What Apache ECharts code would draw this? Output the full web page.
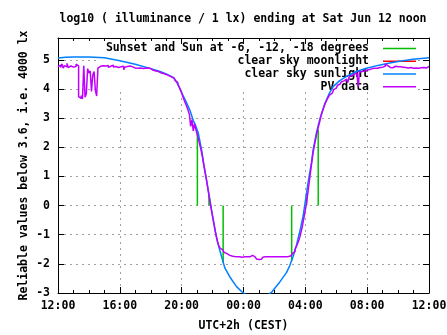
<!DOCTYPE html>
<html>
<head>
<meta charset="utf-8">
<script src="https://cdn.jsdelivr.net/npm/echarts@6/dist/echarts.min.js"></script>
<style>
  html, body { margin: 0; padding: 0; background: #fff; }
  #chart { width: 447px; height: 335px; }
</style>
</head>
<body>
<div id="chart"></div>
<script>
// ---- text ----
const titleText = 'log10 ( illuminance / 1 lx) ending at Sat Jun 12 noon';
const xAxisName = 'UTC+2h (CEST)';
const yAxisName = 'Reliable values below 3.6, i.e. 4000 lx';
const xTickLabels = ['12:00', '16:00', '20:00', '00:00', '04:00', '08:00', '12:00'];
const seriesNames = [
  'Sunset and Sun at -6, -12, -18 degrees',
  'clear sky moonlight',
  'clear sky sunlight',
  'PV data'
];

// ---- data (x = hours after 12:00 noon, y = log10 lux) ----
// Sun events: sunset, -6 deg, -12 deg (evening), -12 deg, -6 deg, sunrise (morning)
const sunEventTimes = ['21:01', '21:46', '22:41', '03:07', '04:05', '04:50'];
const sunEventLux = [2.52, 0.35, -1.96, -1.9, 0.3, 2.6];

// Moon stays far below the plotted range this night
const moonHours = [];
const moonLux = [];

// Clear-sky sunlight model
const sunHours = [0, 0.5, 1, 2, 3, 4, 5, 6, 6.6, 7, 7.5, 7.8, 8.08, 8.25, 8.53, 8.75, 8.9, 9.07,
  9.2, 9.3, 9.45, 9.61, 9.72, 9.8, 9.94, 10.1, 10.2, 10.36, 10.58, 10.8, 11.12, 11.55, 11.98,
  12.4, 12.9, 13.4, 13.81, 14.05, 14.35, 14.78, 15.0, 15.21, 15.43, 15.64, 15.86, 16.0, 16.18,
  16.4, 16.5, 16.72, 16.94, 17.26, 17.55, 17.8, 18.2, 18.66, 19.3, 19.95, 20.7, 21.46, 22.2,
  22.97, 23.5, 24];
const sunLux = [5.06, 5.09, 5.10, 5.10, 5.07, 4.97, 4.85, 4.70, 4.60, 4.52, 4.38, 4.12, 3.78, 3.60,
  3.28, 2.92, 2.75, 2.50, 2.15, 1.88, 1.35, 0.88, 0.52, 0.28, -0.18, -0.65, -0.95, -1.33, -1.75,
  -2.15, -2.45, -2.78, -3.0, -3.12, -3.16, -3.12, -2.98, -2.82, -2.62, -2.30, -2.05, -1.75, -1.35,
  -0.90, -0.35, 0.15, 0.80, 1.48, 1.90, 2.50, 2.97, 3.50, 3.85, 4.08, 4.28, 4.43, 4.60, 4.71,
  4.81, 4.89, 4.96, 5.02, 5.05, 5.07];

// PV sensor readings, one every 5 minutes starting at 12:00
const pvStepMinutes = 5;
const pvLux = [
  4.77, 4.82, 4.74, 4.86, 4.72, 4.80, 4.76, 4.88, 4.73, 4.79, 4.84, 4.75,
  4.81, 4.77, 4.85, 4.79, 3.74, 3.68, 3.78, 3.66, 4.80, 3.72, 3.84, 4.70,
  4.55, 4.62, 3.92, 4.48, 4.60, 3.96, 3.76, 4.72, 4.78, 4.74, 4.80, 4.76,
  4.79, 4.75, 4.81, 4.74, 4.78, 4.76, 4.82, 4.75, 4.77, 4.79, 4.74, 4.78,
  4.76, 4.73, 4.78, 4.66, 4.75, 4.77, 4.74, 4.79, 4.73, 4.76, 4.75, 4.72,
  4.74, 4.71, 4.75, 4.72, 4.73, 4.70, 4.74, 4.71, 4.69, 4.72, 4.68, 4.70,
  4.66, 4.64, 4.61, 4.62, 4.59, 4.60, 4.57, 4.55, 4.56, 4.53, 4.51, 4.50,
  4.48, 4.46, 4.44, 4.42, 4.40, 4.37, 4.34, 4.29, 4.23, 4.16, 4.07, 3.97,
  3.86, 3.73, 3.61, 3.50, 3.39, 3.27, 3.12, 2.72, 2.95, 2.56, 2.80, 2.62,
  2.45, 2.28, 2.10, 1.91, 1.70, 1.44, 1.18, 0.94, 0.68, 0.40, 0.13, -0.12,
  -0.38, -0.62, -0.86, -1.08, -1.27, -1.40, -1.47, -1.52, -1.57, -1.61, -1.64, -1.67,
  -1.70, -1.72, -1.73, -1.74, -1.75, -1.75, -1.76, -1.76, -1.76, -1.76, -1.77, -1.76,
  -1.76, -1.76, -1.76, -1.76, -1.76, -1.72, -1.71, -1.72, -1.76, -1.76, -1.83, -1.85,
  -1.85, -1.84, -1.84, -1.77, -1.76, -1.76, -1.76, -1.76, -1.76, -1.76, -1.76, -1.76,
  -1.76, -1.76, -1.76, -1.76, -1.76, -1.76, -1.76, -1.76, -1.76, -1.75, -1.75, -1.74,
  -1.72, -1.69, -1.64, -1.58, -1.50, -1.41, -1.30, -1.18, -1.04, -0.85, -0.64, -0.40,
  -0.15, 0.12, 0.45, 0.80, 1.15, 1.48, 1.80, 2.05, 2.28, 2.50, 2.68, 2.85,
  3.05, 3.20, 3.33, 3.45, 3.56, 3.65, 3.73, 3.80, 3.86, 3.92, 3.98, 4.03,
  4.08, 4.13, 4.17, 4.21, 4.25, 4.28, 4.31, 4.34, 4.37, 4.22, 4.42, 4.45,
  4.49, 4.51, 4.53, 4.55, 4.56, 4.08, 4.58, 4.60, 4.61, 4.62, 4.64, 4.65,
  4.66, 4.67, 4.68, 4.70, 4.69, 4.71, 4.72, 4.71, 4.73, 4.74, 4.76, 4.75,
  4.77, 4.78, 4.86, 4.80, 4.76, 4.74, 4.77, 4.73, 4.75, 4.78, 4.74, 4.76,
  4.73, 4.76, 4.72, 4.75, 4.71, 4.74, 4.77, 4.72, 4.70, 4.74, 4.73, 4.71,
  4.74, 4.72, 4.76, 4.71, 4.75, 4.73, 4.70, 4.74, 4.77, 4.72, 4.75, 4.78,
  4.76
];

// ---- helpers ----
function hoursAfterNoon(clock) {
  const [hh, mm] = clock.split(':').map(Number);
  return ((hh - 12 + 24) % 24) + mm / 60;
}

// vertical impulses from 0 to the clear-sky level at each sun event, separated by gaps
const sunEventData = [];
sunEventTimes.forEach((t, i) => {
  const h = hoursAfterNoon(t);
  sunEventData.push([h, 0], [h, sunEventLux[i]], [h, '-']);
});
const moonData = moonHours.map((h, i) => [h, moonLux[i]]);
const sunData = sunHours.map((h, i) => [h, sunLux[i]]);
const pvData = pvLux.map((v, i) => [i * pvStepMinutes / 60, v]);

const FONT = '"DejaVu Sans Mono", "Liberation Mono", monospace';
const FS = 11.5;
const colors = ['#00c000', '#ff0000', '#0080ff', '#c000ff'];
const gridDash = { color: '#a0a0a0', type: [2, 4], width: 1 };
const textStyleBase = { fontFamily: FONT, fontSize: FS, fontWeight: 'bold', color: '#000' };

const chart = echarts.init(document.getElementById('chart'), null, { renderer: 'canvas' });

// key entries
const keyRightX = 369;
const keyRows = [48.5, 61.3, 74, 86.8];
const keyGraphics = [
  { type: 'rect', z: 1, silent: true,
    shape: { x: 100, y: 39, width: 317, height: 53 }, style: { fill: '#fff' } }
];
seriesNames.forEach((name, i) => {
  keyGraphics.push({
    type: 'text', z: 1, silent: true,
    style: { text: name, x: keyRightX, y: keyRows[i], align: 'right', textAlign: 'right',
      verticalAlign: 'middle', textVerticalAlign: 'middle',
      font: 'bold ' + FS + 'px ' + FONT, fill: '#000' }
  });
  keyGraphics.push({
    type: 'line', z: 1, silent: true,
    shape: { x1: 383, y1: keyRows[i], x2: 416, y2: keyRows[i] },
    style: { stroke: colors[i], lineWidth: 1.5 }
  });
});

const axisCommon = {
  type: 'value',
  axisLine: { show: true, onZero: false, lineStyle: { color: '#000', width: 1 } },
  axisTick: { show: true, inside: true, length: 6, lineStyle: { color: '#000', width: 1 } }
};

chart.setOption({
  animation: false,
  backgroundColor: '#fff',
  title: {
    text: titleText, left: 243, top: 13, padding: 0, textAlign: 'center',
    textStyle: { ...textStyleBase }
  },
  grid: { left: 58, right: 18, top: 38, bottom: 42, containLabel: false, outerBoundsMode: 'none' },
  xAxis: [
    {
      ...axisCommon, position: 'bottom', min: 0, max: 24, interval: 4,
      minorTick: { show: true, splitNumber: 4, length: 3, lineStyle: { color: '#000' } },
      splitLine: { show: true, lineStyle: gridDash },
      axisLabel: { ...textStyleBase, margin: 7,
        formatter: v => xTickLabels[Math.round(v / 4)] },
      name: xAxisName, nameLocation: 'middle', nameGap: 27,
      nameTextStyle: { ...textStyleBase }
    },
    {
      ...axisCommon, position: 'top', min: 0, max: 24, interval: 4, z: 3,
      minorTick: { show: true, splitNumber: 4, length: 3, lineStyle: { color: '#000' } },
      splitLine: { show: false }, axisLabel: { show: false }
    }
  ],
  yAxis: [
    {
      ...axisCommon, position: 'left', min: -3, max: 5.75, interval: 1,
      splitLine: { show: true, lineStyle: gridDash },
      axisLabel: { ...textStyleBase, margin: 8,
        formatter: v => (Number.isInteger(v) ? String(v) : '') },
      name: yAxisName, nameLocation: 'middle', nameGap: 28, nameRotate: 90,
      nameMoveOverlap: false,
      nameTextStyle: { ...textStyleBase }
    },
    {
      ...axisCommon, position: 'right', min: -3, max: 5.75, interval: 1, z: 3,
      splitLine: { show: false }, axisLabel: { show: false }
    }
  ],
  graphic: keyGraphics,
  series: [
    {
      name: seriesNames[0], type: 'line', data: sunEventData, showSymbol: false,
      connectNulls: false, lineStyle: { color: colors[0], width: 1.5 }, itemStyle: { color: colors[0] },
      z: 2, silent: true
    },
    {
      name: seriesNames[1], type: 'line', data: moonData, showSymbol: false,
      lineStyle: { color: colors[1], width: 1.5 }, itemStyle: { color: colors[1] }, z: 2, silent: true
    },
    {
      name: seriesNames[2], type: 'line', data: sunData, showSymbol: false,
      lineStyle: { color: colors[2], width: 1.5 }, itemStyle: { color: colors[2] }, z: 2, silent: true
    },
    {
      name: seriesNames[3], type: 'line', data: pvData, showSymbol: false, step: 'end',
      lineStyle: { color: colors[3], width: 1.5 }, itemStyle: { color: colors[3] }, z: 2, silent: true
    }
  ]
});
</script>
</body>
</html>
